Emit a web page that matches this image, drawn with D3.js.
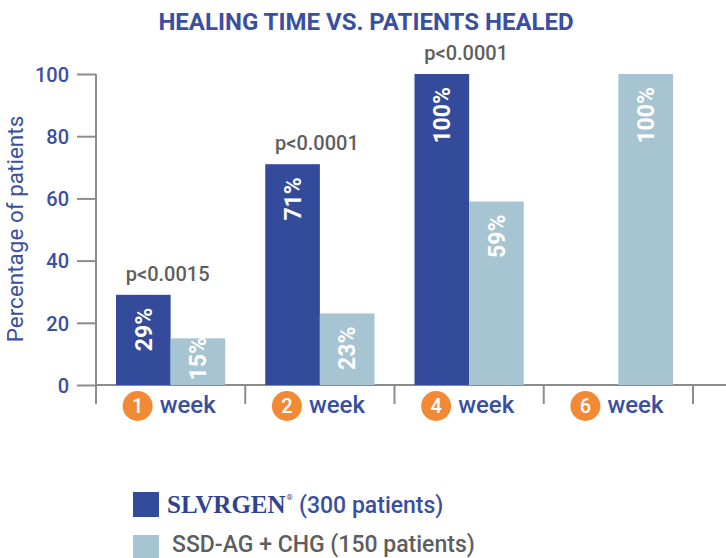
<!DOCTYPE html>
<html>
<head>
<meta charset="utf-8">
<script src="https://cdn.jsdelivr.net/npm/d3@7"></script>
<style>
  body { margin: 0; background: #fff; }
  text { font-family: Roboto, "Noto Sans", sans-serif; }
</style>
</head>
<body>
<svg width="726" height="558"></svg>
<script>
const weeks = ["1", "2", "4", "6"];
const slvrgen = [29, 71, 100, null];
const ssdAg = [15, 23, 59, 100];
const pValues = ["p<0.0015", "p<0.0001", "p<0.0001", ""];
const yTicks = [0, 20, 40, 60, 80, 100];
const seriesNames = ["slvrgen", "ssd"];

const dark = "#344a9a", light = "#a7c4d2", orange = "#f28a35", blue = "#3a4f9f", grey = "#8c8c8c", textGrey = "#5e5e5e";

const svg = d3.select("svg");

// scales
const x = d3.scaleBand().domain(weeks).range([96, 693]).paddingInner(0.268).paddingOuter(0.134);
const xs = d3.scaleBand().domain(seriesNames).range([0, x.bandwidth()]);
const y = d3.scaleLinear().domain([0, 100]).range([385, 74]);

const rows = weeks.map((w, i) => ({week: w, p: pValues[i], vals: [
  {key: "slvrgen", v: slvrgen[i]}, {key: "ssd", v: ssdAg[i]}]}));

//TITLE
svg.append("text")
   .attr("x", 366).attr("y", 30)
   .attr("text-anchor", "middle")
   .attr("font-size", "24px").attr("font-weight", 700)
   .attr("fill", blue)
   .text("HEALING TIME VS. PATIENTS HEALED");

//Y AXIS
const yAxis = svg.append("g").attr("transform", "translate(96,0)")
   .call(d3.axisLeft(y).tickValues(yTicks).tickSize(19).tickPadding(8));
yAxis.select(".domain").remove();
yAxis.selectAll("line").attr("stroke", grey).attr("stroke-width", 2);
yAxis.selectAll("text").attr("fill", blue).attr("font-size", "20px").attr("font-weight", 500)
   .attr("font-family", "Roboto, sans-serif").attr("dy", "0.36em");
svg.append("line").attr("x1", 96).attr("x2", 96).attr("y1", y(100)).attr("y2", 404)
   .attr("stroke", grey).attr("stroke-width", 2);

svg.append("text")
   .attr("transform", "translate(23," + 229 + ") rotate(-90)")
   .attr("text-anchor", "middle")
   .attr("font-size", "22.5px")
   .attr("fill", blue)
   .text("Percentage of patients");

//X AXIS
svg.append("line").attr("x1", 96).attr("x2", 726).attr("y1", y(0)).attr("y2", y(0))
   .attr("stroke", grey).attr("stroke-width", 2);
const bounds = weeks.map(w => x(w) - x.step() * x.paddingInner() / 2).concat([x.range()[1]]);
svg.selectAll(".xtick").data(bounds.slice(1)).enter().append("line")
   .attr("class", "xtick")
   .attr("x1", d => d).attr("x2", d => d)
   .attr("y1", y(0)).attr("y2", 404)
   .attr("stroke", grey).attr("stroke-width", 2);

//BARS
const groups = svg.selectAll(".grp").data(rows).enter().append("g")
   .attr("class", "grp")
   .attr("transform", d => "translate(" + x(d.week) + ",0)");

const bars = groups.selectAll(".bar").data(d => d.vals.filter(v => v.v != null)).enter();
bars.append("rect")
   .attr("x", d => xs(d.key))
   .attr("y", d => y(d.v))
   .attr("width", xs.bandwidth())
   .attr("height", d => y(0) - y(d.v))
   .attr("fill", d => d.key === "slvrgen" ? dark : light);

bars.append("text")
   .attr("transform", d => {
       const len = String(d.v).length * 13 + 17;
       const yEnd = Math.min(y(d.v) + 13, y(0) - 5 - len);
       return "translate(" + (xs(d.key) + xs.bandwidth() / 2) + "," + yEnd + ") rotate(-90)";
   })
   .attr("dy", "0.36em")
   .attr("text-anchor", "end")
   .attr("font-size", "23px").attr("font-weight", 700)
   .attr("fill", "#fff")
   .text(d => d.v + "%");

//P VALUES
groups.append("text")
   .attr("x", x.bandwidth() / 2 - 3)
   .attr("y", d => y(d3.max(d.vals, v => v.v)) - 14)
   .attr("text-anchor", "middle")
   .attr("font-size", "20px").attr("font-weight", 500)
   .attr("fill", textGrey)
   .text(d => d.p);

//WEEK LABELS
const lab = groups.append("g").attr("transform", "translate(" + x.bandwidth() / 2 + ",0)");
lab.append("circle").attr("cx", -33).attr("cy", 406).attr("r", 15).attr("fill", orange);
lab.append("text").attr("x", -33).attr("y", 413)
   .attr("text-anchor", "middle")
   .attr("font-size", "20px").attr("font-weight", 500)
   .attr("fill", "#fff")
   .text(d => d.week);
lab.append("text").attr("x", -11).attr("y", 413)
   .attr("font-size", "24px").attr("font-weight", 500)
   .attr("fill", blue)
   .text("week");

//LEGEND
const legend = svg.append("g");
legend.append("rect").attr("x", 133).attr("y", 492).attr("width", 26).attr("height", 25).attr("fill", dark);
legend.append("rect").attr("x", 133).attr("y", 535).attr("width", 26).attr("height", 25).attr("fill", light);
const l1 = legend.append("text").attr("x", 167).attr("y", 513);
l1.append("tspan")
   .attr("font-family", "'Liberation Serif', 'DejaVu Serif', serif")
   .attr("font-weight", 700).attr("font-size", "25px")
   .attr("fill", "#2f4391")
   .text("SLVRGEN");
l1.append("tspan")
   .attr("font-size", "8px").attr("dy", -13).attr("dx", 1)
   .attr("fill", "#2f4391")
   .text("®");
l1.append("tspan")
   .attr("x", 299).attr("dy", 13)
   .attr("font-size", "23px").attr("font-weight", 500)
   .attr("fill", blue)
   .text("(300 patients)");
legend.append("text").attr("x", 172).attr("y", 552)
   .attr("font-size", "23px").attr("font-weight", 500)
   .attr("fill", textGrey)
   .text("SSD-AG + CHG (150 patients)");
</script>
</body>
</html>
